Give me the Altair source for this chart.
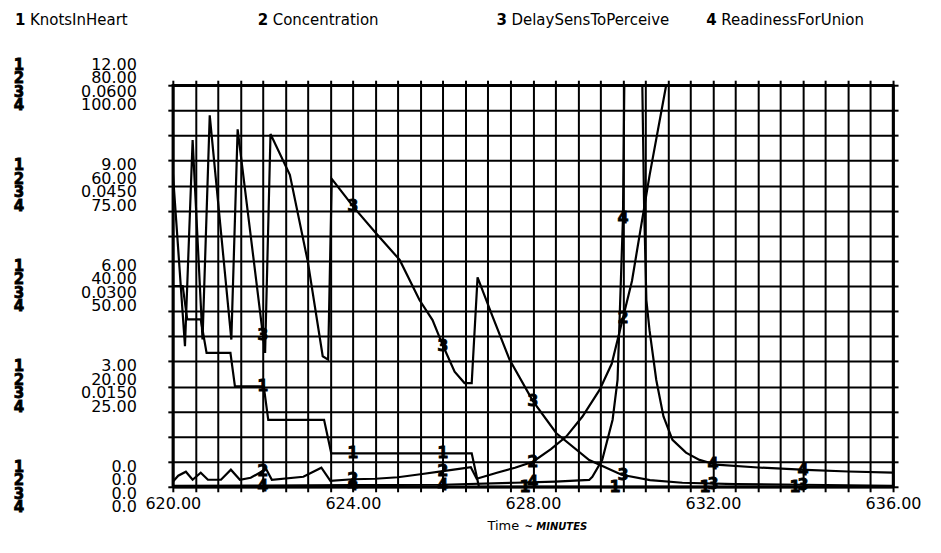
import altair as alt
import numpy as np
import pandas as pd

# ---------------- data ----------------
T_MIN, T_MAX = 620.0, 636.0
names = ["KnotsInHeart", "Concentration", "DelaySensToPerceive", "ReadinessForUnion"]
scale_max = [12.0, 80.0, 0.06, 100.0]

knots_t = [620.0, 620.22, 620.32, 620.62, 620.75, 621.28, 621.38, 622.02, 622.12,
           623.36, 623.52, 626.64, 626.8, 636.0]
knots_v = [6.0, 6.0, 5.0, 5.0, 4.0, 4.0, 3.0, 3.0, 2.0,
           2.0, 1.0, 1.0, 0.0, 0.0]

conc_t = [620.0, 620.12, 620.29, 620.44, 620.62, 620.78, 621.07, 621.29, 621.49, 621.73,
          621.93, 622.07, 622.2, 622.9, 623.3, 623.5, 624.0, 624.5, 625.0, 625.5,
          626.0, 626.4, 626.62, 626.75, 627.2, 627.6, 628.0, 628.4, 628.74, 629.1,
          629.48, 629.75, 629.96, 630.2, 630.59, 630.96, 631.15]
conc_v = [1.0, 2.2, 3.0, 1.4, 2.8, 1.4, 1.4, 3.4, 1.4, 1.8,
          2.8, 3.6, 1.4, 2.0, 3.8, 1.2, 1.5, 1.6, 1.9, 2.5,
          3.1, 3.6, 3.9, 1.6, 2.8, 3.8, 5.0, 7.5, 10.0, 14.0,
          19.3, 24.5, 32.2, 41.0, 62.0, 80.0, 90.0]

delay_t = [620.0, 620.27, 620.44, 620.66, 620.82, 621.30, 621.44, 622.05, 622.17, 622.6,
           623.0, 623.33, 623.45, 623.53, 624.04, 624.5, 625.04, 625.48, 625.77, 626.0,
           626.26, 626.48, 626.64, 626.77, 627.1, 627.48, 628.0, 628.52, 629.25, 629.97,
           630.6, 631.32, 632.5, 634.0, 636.0]
delay_v = [0.047, 0.021, 0.0518, 0.022, 0.0555, 0.022, 0.0534, 0.020, 0.0527, 0.0466,
           0.0336, 0.0195, 0.019, 0.046, 0.0416, 0.0380, 0.0339, 0.0279, 0.0249, 0.0211,
           0.0172, 0.0155, 0.0155, 0.0313, 0.0255, 0.019, 0.0128, 0.008, 0.004, 0.0018,
           0.001, 0.0006, 0.0004, 0.0003, 0.00015]

ready_t = [620.0, 622.0, 624.0, 626.0, 627.6, 628.5, 629.25, 629.32, 629.54, 629.77,
           629.88, 630.0, 630.03, 630.2, 630.43, 630.47, 630.52, 630.59, 630.74, 630.9,
           631.1, 631.4, 631.7, 632.07, 633.0, 634.07, 635.0, 636.0]
ready_v = [0.2, 0.3, 0.4, 0.5, 1.0, 1.3, 1.7, 2.5, 6.7, 16.7,
           26.6, 67.0, 100.0, 150.0, 100.0, 69.7, 46.5, 39.0, 26.6, 17.5,
           11.7, 8.5, 6.7, 5.5, 4.8, 4.2, 3.8, 3.5]

marker_times = [622.0, 624.0, 626.0, 628.0, 630.0, 632.0, 634.0]

# axis text
x_tick_values = [620.0 + 0.5 * i for i in range(33)]
grid_rows = list(range(17))
label_rows = [0, 4, 8, 12, 16]
lab_knots = ["0.0", "3.00", "6.00", "9.00", "12.00"]
lab_conc = ["0.0", "20.00", "40.00", "60.00", "80.00"]
lab_delay = ["0.0", "0.0150", "0.0300", "0.0450", "0.0600"]
lab_ready = ["0.0", "25.00", "50.00", "75.00", "100.00"]

# ---------------- chart ----------------
W, H = 721, 402
FONT = "DejaVu Sans"
LH = 13.5

x_scale = alt.Scale(domain=[T_MIN, T_MAX], nice=False, zero=False)
g_scale = alt.Scale(domain=[0, 16], nice=False, zero=True)

frame = pd.DataFrame({"t": [T_MIN, T_MAX], "g": [0, 16]})

axis_common = dict(tickColor="black", tickWidth=2, tickSize=5,
                   domainColor="black", domainWidth=2.5, title=None)

grid = alt.Chart(frame).mark_point(opacity=0).encode(
    x=alt.X("t:Q", scale=x_scale, axis=alt.Axis(
        values=x_tick_values, grid=True, gridColor="black", gridWidth=2, gridOpacity=1,
        labelExpr="datum.value % 4 == 0 ? format(datum.value, '.2f') : ''",
        labelFont=FONT, labelFontSize=16, labelColor="black", labelPadding=4,
        labelFlush=False, labelOverlap=False, **axis_common)),
    y=alt.Y("g:Q", scale=g_scale, axis=alt.Axis(
        values=grid_rows, grid=True, gridColor="black", gridWidth=2, gridOpacity=1,
        labels=False, **axis_common)),
)

frame2 = alt.Chart(frame).mark_point(opacity=0).encode(
    x=alt.X("t:Q", scale=x_scale, axis=alt.Axis(
        orient="top", values=x_tick_values, grid=False, labels=False, **axis_common)),
    y=alt.Y("g:Q", scale=g_scale, axis=alt.Axis(
        orient="right", values=grid_rows, grid=False, labels=False, **axis_common)),
)

series = [(knots_t, knots_v), (conc_t, conc_v), (delay_t, delay_v), (ready_t, ready_v)]
layers = [grid, frame2]
for i, (tt, vv) in enumerate(series):
    df = pd.DataFrame({"t": tt, "v": vv})
    ysc = alt.Scale(domain=[0, scale_max[i]], nice=False, zero=True)
    layers.append(alt.Chart(df).mark_line(color="black", strokeWidth=2.2, clip=True).encode(
        x=alt.X("t:Q", scale=x_scale, axis=None),
        y=alt.Y("v:Q", scale=ysc, axis=None),
    ))
    mv = np.interp(marker_times, tt, vv)
    mdf = pd.DataFrame({"t": marker_times, "v": mv, "s": str(i + 1)})
    mdf = mdf[mdf["v"] <= scale_max[i]]
    # markers that sit on the bottom edge (knots after 627) are nudged left, as in the plot
    groups = [(mdf, 0)]
    if i == 0:
        groups = [(mdf[mdf["t"] < 627], 0), (mdf[mdf["t"] >= 627], -8)]
    for sub, dx in groups:
        layers.append(alt.Chart(sub).mark_text(
            font=FONT, fontSize=16, fontWeight="bold", color="black", baseline="middle",
            stroke="black", strokeWidth=0.8, dx=dx).encode(
            x=alt.X("t:Q", scale=x_scale, axis=None),
            y=alt.Y("v:Q", scale=ysc, axis=None),
            text="s:N",
        ))

# stacked y labels
lab_df = pd.DataFrame({
    "g": label_rows,
    "lab": ["\n".join(z) for z in zip(lab_knots, lab_conc, lab_delay, lab_ready)],
    "num": ["1\n2\n3\n4"] * len(label_rows),
})
layers.append(alt.Chart(lab_df).mark_text(
    align="right", baseline="middle", lineBreak="\n", lineHeight=LH, dy=-1.5 * LH,
    font=FONT, fontSize=16, color="black").encode(
    x=alt.value(-36), y=alt.Y("g:Q", scale=g_scale, axis=None), text="lab:N"))
layers.append(alt.Chart(lab_df).mark_text(
    align="center", baseline="middle", lineBreak="\n", lineHeight=LH, dy=-1.5 * LH,
    font=FONT, fontSize=15, fontWeight="bold", color="black",
    stroke="black", strokeWidth=0.8).encode(
    x=alt.value(-154), y=alt.Y("g:Q", scale=g_scale, axis=None), text="num:N"))

# legend across the top
legend_x = [-158, 85, 324, 534]
for i, nm in enumerate(names):
    layers.append(alt.Chart(pd.DataFrame({"s": [str(i + 1)]})).mark_text(
        align="left", baseline="middle", font=FONT, fontSize=15, fontWeight="bold",
        color="black").encode(x=alt.value(legend_x[i]), y=alt.value(-65), text="s:N"))
    layers.append(alt.Chart(pd.DataFrame({"s": [nm]})).mark_text(
        align="left", baseline="middle", font=FONT, fontSize=15, color="black").encode(
        x=alt.value(legend_x[i] + 15), y=alt.value(-65), text="s:N"))

# axis title
layers.append(alt.Chart(pd.DataFrame({"s": ["Time"]})).mark_text(
    align="left", baseline="middle", font=FONT, fontSize=13, color="black").encode(
    x=alt.value(315), y=alt.value(441), text="s:N"))
layers.append(alt.Chart(pd.DataFrame({"s": ["~ MINUTES"]})).mark_text(
    align="left", baseline="middle", font=FONT, fontSize=10, fontStyle="italic",
    fontWeight="bold", color="black").encode(
    x=alt.value(352), y=alt.value(442), text="s:N"))

chart = alt.layer(*layers).resolve_scale(y="independent").resolve_axis(
    x="independent", y="independent"
).properties(
    width=W, height=H,
    autosize=alt.AutoSizeParams(type="none"),
    padding={"left": 165, "top": 77, "right": 40, "bottom": 60},
).configure_view(stroke="black", strokeWidth=2.5)

chart.save("out.html", embed_options={"renderer": "svg", "actions": False})
